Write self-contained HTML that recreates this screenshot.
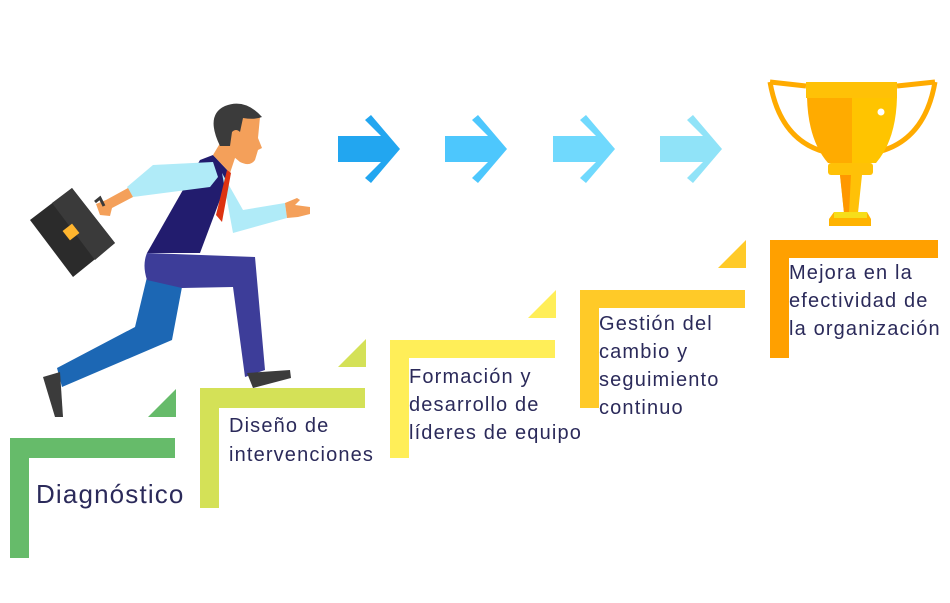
<!DOCTYPE html>
<html><head><meta charset="utf-8"><style>
html,body{margin:0;padding:0;background:#fff;width:950px;height:603px;overflow:hidden}
svg{display:block}
text{font-family:"Liberation Sans",sans-serif;fill:#2b2a5a;letter-spacing:1.15px}
</style></head><body>
<svg width="950" height="603" viewBox="0 0 950 603">
<g>
<path d="M338,136H381L365,120L371,115L400,149L371,183L365,178L381,162H338Z" fill="#22a6f0"/>
<path d="M445,136H488L472,120L478,115L507,149L478,183L472,178L488,162H445Z" fill="#4dc7fd"/>
<path d="M553,136H596L580,120L586,115L615,149L586,183L580,178L596,162H553Z" fill="#70d9fd"/>
<path d="M660,136H703L687,120L693,115L722,149L693,183L687,178L703,162H660Z" fill="#90e3f8"/>
</g>
<g>
<path d="M10,438H175V458H29V558H10Z" fill="#66bb6a"/>
<path d="M148,417H176V389Z" fill="#66bb6a"/>
<path d="M200,388H365V408H219V508H200Z" fill="#d4e157"/>
<path d="M338,367H366V339Z" fill="#d4e157"/>
<path d="M390,340H555V358H409V458H390Z" fill="#ffee58"/>
<path d="M528,318H556V290Z" fill="#ffee58"/>
<path d="M580,290H745V308H599V408H580Z" fill="#ffca28"/>
<path d="M718,268H746V240Z" fill="#ffca28"/>
<path d="M770,240H938V258H789V358H770Z" fill="#ffa000"/>
</g>
<text x="36" y="503" font-size="26">Diagnóstico</text>
<text x="229" y="432" font-size="20">Diseño de</text>
<text x="229" y="461" font-size="20">intervenciones</text>
<text x="409" y="383" font-size="20">Formación y</text>
<text x="409" y="411" font-size="20">desarrollo de</text>
<text x="409" y="439" font-size="20">líderes de equipo</text>
<text x="599" y="330" font-size="20">Gestión del</text>
<text x="599" y="358" font-size="20">cambio y</text>
<text x="599" y="386" font-size="20">seguimiento</text>
<text x="599" y="414" font-size="20">continuo</text>
<text x="789" y="279" font-size="20">Mejora en la</text>
<text x="789" y="307" font-size="20">efectividad de</text>
<text x="789" y="335" font-size="20">la organización</text>
<g>
<path d="M770,82L806,86M897,86L935,82" stroke="#ffab00" stroke-width="5" fill="none"/>
<path d="M770,82Q780,140 825,152" stroke="#ffab00" stroke-width="5" fill="none"/>
<path d="M935,82Q925,140 878,152" stroke="#ffab00" stroke-width="5" fill="none"/>
<path d="M807,97H852V163H828Q808,140 807,97Z" fill="#ffab00"/>
<path d="M852,97H897Q896,140 876,163H852Z" fill="#ffc400"/>
<rect x="806" y="82" width="91" height="16" fill="#ffc107"/>
<circle cx="881" cy="112" r="3.5" fill="#fff"/>
<rect x="828" y="163" width="45" height="12" rx="3" fill="#ffc107"/>
<path d="M840,175H862L858,213H844Z" fill="#ffc107"/>
<path d="M840,175H851L849,213H844Z" fill="#ff9800"/>
<path d="M834,212H867L871,219V226H829V219Z" fill="#ffb300"/>
<rect x="834" y="212" width="33" height="6" fill="#f6de1a"/>
</g>
<g>
<path d="M147,277L182,287L172,340L62,387L57,368L135,327Z" fill="#1c67b4"/>
<path d="M43,377L60,372L63,417L55,417Z" fill="#3b3b3b"/>
<path d="M147,253L255,257L265,370L245,377L233,287L182,288L147,280Q142,265 147,253Z" fill="#3d3d99"/>
<path d="M247,373L290,370L291,378L253,388Z" fill="#3b3b3b"/>
<path d="M147,253L200,160L213,155L230,173L200,253Z" fill="#221c6e"/>
<path d="M127,187L153,165L213,162L218,177L210,187L133,197Z" fill="#b0ebf8"/>
<path d="M128,188L133,197L112,208L110,216L100,215L96,204L106,200Z" fill="#f4a05a"/>
<path d="M222,173L243,210L285,203L287,218L233,233Z" fill="#b0ebf8"/>
<path d="M285,203L297,198L300,200L295,205L310,207L310,214L298,217L287,218Z" fill="#f4a05a"/>
<path d="M213,155L222,140L240,143L230,173Z" fill="#f4a05a"/>
<path d="M227,170L231,173L222,222L216,215Z" fill="#dd3311"/>
<path d="M224,124Q230,112 260,117L258,138L262,148L258,150L255,160Q250,167 240,162L228,152Q220,142 224,124Z" fill="#f4a05a"/>
<path d="M220,146Q205,115 225,106Q245,98 262,117Q255,120 243,118L240,132Q236,128 232,132L230,146Z" fill="#3b3b3b"/>
<path d="M30,220L72,188L115,243L73,277Z" fill="#2b2b2b"/>
<path d="M52,203L72,188L115,243L95,260Z" fill="#3a3a3a"/>
<path d="M95,202L100,198L104,206" stroke="#3a3a3a" stroke-width="3" fill="none"/>
<rect x="65" y="226" width="12" height="12" transform="rotate(-38 71 232)" fill="#ffb52e"/>
</g>
</svg>
</body></html>
